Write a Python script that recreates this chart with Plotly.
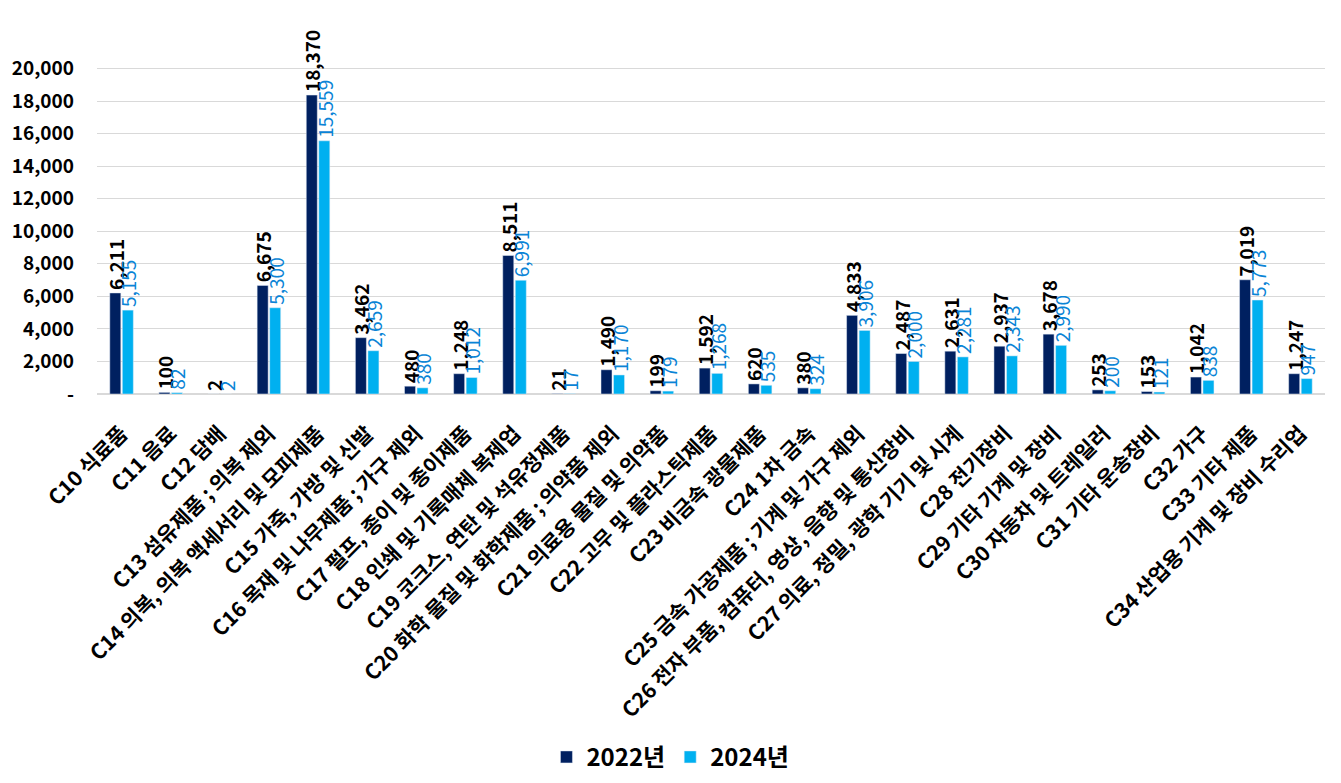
import plotly.graph_objects as go

categories = [
    "C10 식료품", "C11 음료", "C12 담배", "C13 섬유제품 ; 의복 제외",
    "C14 의복, 의복 액세서리 및 모피제품", "C15 가죽, 가방 및 신발",
    "C16 목재 및 나무제품 ; 가구 제외", "C17 펄프, 종이 및 종이제품",
    "C18 인쇄 및 기록매체 복제업", "C19 코크스, 연탄 및 석유정제품",
    "C20 화학 물질 및 화학제품 ; 의약품 제외", "C21 의료용 물질 및 의약품",
    "C22 고무 및 플라스틱제품", "C23 비금속 광물제품", "C24 1차 금속",
    "C25 금속 가공제품 ; 기계 및 가구 제외",
    "C26 전자 부품, 컴퓨터, 영상, 음향 및 통신장비",
    "C27 의료, 정밀, 광학 기기 및 시계", "C28 전기장비",
    "C29 기타 기계 및 장비", "C30 자동차 및 트레일러", "C31 기타 운송장비",
    "C32 가구", "C33 기타 제품", "C34 산업용 기계 및 장비 수리업",
]
v2022 = [6211, 100, 2, 6675, 18370, 3462, 480, 1248, 8511, 21, 1490, 199,
         1592, 620, 380, 4833, 2487, 2631, 2937, 3678, 253, 153, 1042, 7019, 1247]
v2024 = [5155, 82, 2, 5300, 15559, 2659, 380, 1012, 6991, 17, 1170, 179,
         1268, 535, 324, 3906, 2000, 2281, 2343, 2990, 200, 121, 838, 5773, 947]
series_names = ["2022년", "2024년"]
y_ticks = [0, 2000, 4000, 6000, 8000, 10000, 12000, 14000, 16000, 18000, 20000]
y_ticktext = ["-"] + [f"{v:,}" for v in y_ticks[1:]]

FONT = "Noto Sans CJK KR"

fig = go.Figure()
fig.add_trace(go.Bar(
    x=categories, y=v2022, name=series_names[0],
    marker_color="#002060",
    text=[f"{v:,}" for v in v2022], textposition="outside", textangle=-90,
    textfont=dict(family=FONT, size=19, color="#000000", weight="bold"),
    constraintext="none", cliponaxis=False,
))
fig.add_trace(go.Bar(
    x=categories, y=v2024, name=series_names[1],
    marker_color="#00B0F0",
    text=[f"{v:,}" for v in v2024], textposition="outside", textangle=-90,
    textfont=dict(family=FONT, size=19, color="#0A84D6"),
    constraintext="none", cliponaxis=False,
))

fig.update_layout(
    width=1341, height=783,
    barmode="group", bargap=0.49, bargroupgap=0.12,
    plot_bgcolor="white", paper_bgcolor="white",
    margin=dict(l=89, r=24, t=28, b=397),
    font=dict(family=FONT, color="#000000"),
    legend=dict(orientation="h", xref="container", x=0.494, xanchor="center",
                yref="container", y=0.043, yanchor="middle",
                font=dict(family=FONT, size=24, weight="bold"),
                itemwidth=30, traceorder="normal"),
    xaxis=dict(tickangle=-45, tickfont=dict(family=FONT, size=21, weight="bold"),
               showline=True, linecolor="#D9D9D9", linewidth=1, ticks="",
               ticklabelstandoff=18, automargin=False),
    yaxis=dict(range=[0, 22000], tickvals=y_ticks, ticktext=y_ticktext,
               tickfont=dict(family=FONT, size=19, weight="bold"),
               showgrid=True, gridcolor="#D9D9D9", gridwidth=1,
               zeroline=True, zerolinecolor="#D9D9D9", ticks="", ticklen=0,
               ticklabelstandoff=22, automargin=False),
)

fig.write_html("out.html")
